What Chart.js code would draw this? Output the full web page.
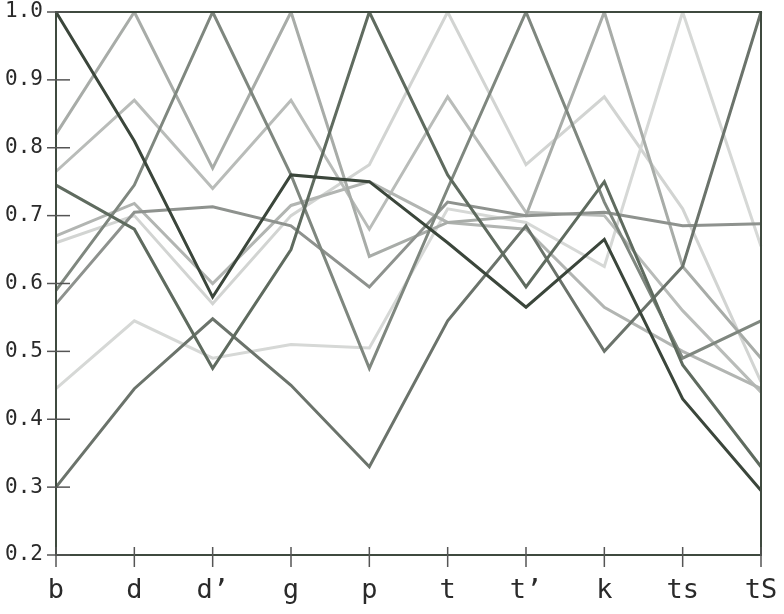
<!DOCTYPE html>
<html>
<head>
<meta charset="utf-8">
<script src="https://cdn.jsdelivr.net/npm/chart.js@4/dist/chart.umd.min.js"></script>
<style>
  html, body { margin: 0; padding: 0; background: #fff; }
  #wrap { width: 784px; height: 614px; }
</style>
</head>
<body>
<div id="wrap"><canvas id="chart"></canvas></div>
<script>
// categories along the x axis
const categories = ['b', 'd', 'd’', 'g', 'p', 't', 't’', 'k', 'ts', 'tS'];

// y axis ticks
const yTicks = [0.2, 0.3, 0.4, 0.5, 0.6, 0.7, 0.8, 0.9, 1.0];

// series values
const s1  = [1.0,   0.81,  0.58,  0.76,  0.75,  0.66,  0.565, 0.665, 0.43,  0.295];
const s2  = [0.82,  1.0,   0.77,  1.0,   0.64,  0.69,  0.70,  1.0,   0.625, 0.49];
const s3  = [0.765, 0.87,  0.74,  0.87,  0.68,  0.875, 0.705, 0.70,  0.56,  0.44];
const s4  = [0.745, 0.68,  0.475, 0.65,  1.0,   0.76,  0.595, 0.75,  0.48,  0.33];
const s5  = [0.67,  0.718, 0.60,  0.715, 0.75,  0.69,  0.68,  0.565, 0.50,  0.445];
const s6  = [0.66,  0.70,  0.57,  0.70,  0.775, 1.0,   0.775, 0.875, 0.71,  0.455];
const s7  = [0.59,  0.745, 1.0,   0.76,  0.475, 0.74,  1.0,   0.72,  0.49,  0.545];
const s8  = [0.57,  0.705, 0.713, 0.685, 0.595, 0.72,  0.70,  0.705, 0.685, 0.688];
const s9  = [0.445, 0.545, 0.49,  0.51,  0.505, 0.71,  0.69,  0.625, 1.0,   0.655];
const s10 = [0.30,  0.445, 0.548, 0.45,  0.33,  0.545, 0.685, 0.50,  0.625, 1.0];

const seriesList = [s1, s2, s3, s4, s5, s6, s7, s8, s9, s10];
const lineColors = [
    '#3b463b', '#a8aca8', '#b9bcb9', '#5f6b5f', '#b2b5b2',
    '#d2d4d2', '#7f877f', '#8e928e', '#d6d8d6', '#6b736b'
];

// draw light lines first so dark ones stay on top
const drawOrder = [5, 8, 2, 4, 1, 7, 6, 9, 3, 0];

// ticks crossing the axes plus the frame around the plot
const framePlugin = {
    id: 'frame',
    afterDatasetsDraw(chart) {
        const { ctx, chartArea: a, scales } = chart;
        ctx.save();
        ctx.strokeStyle = '#3f4a3f';
        ctx.lineWidth = 2;
        ctx.strokeRect(a.left, a.top, a.right - a.left, a.bottom - a.top);

        ctx.strokeStyle = '#555';
        ctx.lineWidth = 1.5;
        yTicks.forEach(v => {
            const y = scales.y.getPixelForValue(v);
            ctx.beginPath();
            ctx.moveTo(a.left - 9, y);
            ctx.lineTo(a.left + 14, y);
            ctx.stroke();
        });
        categories.forEach((c, i) => {
            const x = scales.x.getPixelForValue(i);
            ctx.beginPath();
            ctx.moveTo(x, a.bottom - 8);
            ctx.lineTo(x, a.bottom + 12);
            ctx.stroke();
        });
        ctx.restore();
    }
};

const ctx = document.getElementById('chart').getContext('2d');
new Chart(ctx, {
    type: 'line',
    data: {
        labels: categories,
        datasets: drawOrder.map((idx, k) => ({
            label: 'S' + (idx + 1),
            data: seriesList[idx],
            borderColor: lineColors[idx],
            borderWidth: 3,
            pointRadius: 0,
            tension: 0,
            order: drawOrder.length - k
        }))
    },
    options: {
        responsive: true,
        maintainAspectRatio: false,
        animation: false,
        layout: { padding: { top: 12, right: 23, left: 0, bottom: 0 } },
        plugins: {
            legend: { display: false },
            tooltip: { enabled: false }
        },
        scales: {
            x: {
                offset: false,
                grid: { display: false, drawTicks: false },
                border: { display: false },
                ticks: {
                    padding: 20,
                    color: '#2a2a2a',
                    font: { family: 'DejaVu Sans Mono', size: 27 },
                    maxRotation: 0,
                    autoSkip: false
                },
                afterFit: s => { s.height = 59; s.paddingLeft = 0; s.paddingRight = 0; }
            },
            y: {
                min: 0.2,
                max: 1.0,
                grid: { display: false, drawTicks: false },
                border: { display: false },
                afterBuildTicks: s => { s.ticks = yTicks.map(v => ({ value: v })); },
                ticks: {
                    padding: 13,
                    color: '#2a2a2a',
                    font: { family: 'DejaVu Sans Mono', size: 21 },
                    callback: v => v.toFixed(1)
                },
                afterFit: s => { s.width = 56; s.paddingTop = 0; s.paddingBottom = 0; }
            }
        }
    },
    plugins: [framePlugin]
});
</script>
</body>
</html>
